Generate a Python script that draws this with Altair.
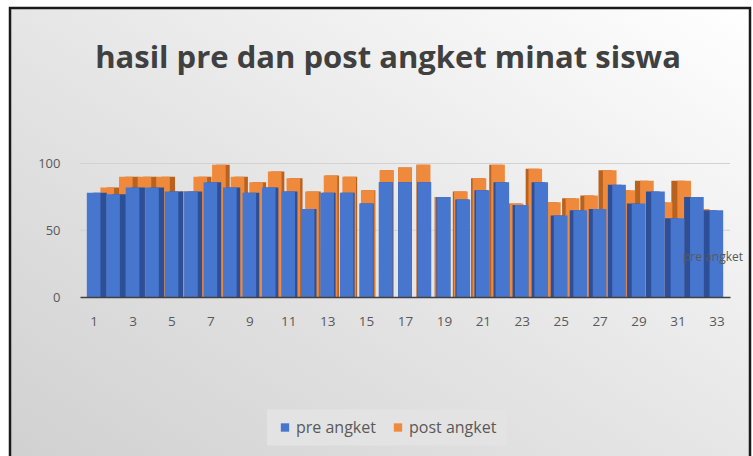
import altair as alt
import pandas as pd

# ---- data ----
categories = list(range(1, 34))
pre_angket = [78, 77, 82, 82, 79, 79, 86, 82, 78, 82, 79, 66, 78, 78, 70, 86, 86,
              86, 75, 73, 80, 86, 69, 86, 61, 65, 66, 84, 70, 79, 59, 75, 65]
post_angket = [82, 90, 90, 90, 79, 90, 99, 90, 86, 94, 89, 79, 91, 90, 80, 95, 97,
               99, 75, 79, 89, 99, 70, 96, 71, 74, 76, 95, 80, 87, 71, 87, 66]
y_ticks = [0, 50, 100]
x_tick_labels = list(range(1, 34, 2))
series_names = ["pre angket", "post angket"]
title_text = "hasil pre dan post angket minat siswa"
depth_label = "pre angket"

# ---- layout / style ----
LEFT, TOP = 80, 163.5
W, H = 650, 133.5
PAD = {"left": LEFT, "top": TOP, "right": 753 - LEFT - W, "bottom": 456 - TOP - H}
X_DOMAIN = [0.3, 33.7]
STEP = W / (X_DOMAIN[1] - X_DOMAIN[0])
HALF = 0.35
BLUE, BLUE_SIDE = "#4776cf", "#2d4f98"
ORANGE, ORANGE_SIDE = "#ef8a3c", "#b9621f"
GRAY = "#595959"
FONT = "Open Sans"

df = pd.DataFrame({"item": categories, "pre": pre_angket, "post": post_angket})

xs = alt.Scale(domain=X_DOMAIN, nice=False, zero=False)
ys = alt.Scale(domain=[0, 100], nice=False)
cs = alt.Scale(domain=series_names, range=[BLUE, ORANGE])
x_axis = alt.Axis(values=x_tick_labels, format="d", title=None, ticks=False,
                  grid=False, domainColor="#404040", domainWidth=1.5,
                  labelColor=GRAY, labelFont=FONT, labelFontSize=13.5,
                  labelPadding=17, zindex=1)
y_axis = alt.Axis(values=y_ticks, title=None, ticks=False, grid=False,
                  domain=False, labelColor=GRAY, labelFont=FONT,
                  labelFontSize=13, labelPadding=20, zindex=1)
legend = alt.Legend(title=None, orient="none", direction="horizontal",
                    legendX=277 - LEFT - 10, legendY=256 - 10, symbolType="square",
                    symbolSize=70, symbolStrokeWidth=0,
                    labelFont=FONT, labelFontSize=16,
                    labelColor=GRAY, columnPadding=14, labelOffset=3,
                    padding=10, fillColor="#e3e3e3")

base = alt.Chart(df).transform_calculate(
    shift=f"(17 - datum.item) * 0.85 / {STEP}",
    side=f"(17 - datum.item) * 0.4 / {STEP}",
)


def rect_layer(value_field, extra, color, series=None):
    enc = dict(
        x=alt.X("xl:Q", scale=xs, axis=x_axis),
        x2="xr:Q",
        y=alt.Y(f"{value_field}:Q", scale=ys, axis=y_axis),
        y2=alt.datum(0),
    )
    chart = base.transform_calculate(
        xl=f"datum.item - {HALF} + {extra}",
        xr=f"datum.item + {HALF} + {extra}",
    )
    if series is not None:
        chart = chart.transform_calculate(series=f"'{series}'")
        enc["color"] = alt.Color("series:N", scale=cs, legend=legend)
    else:
        enc["color"] = alt.value(color)
    return chart.mark_rect().encode(**enc)


orange_side = rect_layer("post", "datum.shift + datum.side", ORANGE_SIDE)
orange_front = rect_layer("post", "datum.shift", None, series="post angket")
blue_side = rect_layer("pre", "datum.side", BLUE_SIDE)
blue_front = rect_layer("pre", "0", None, series="pre angket")

# background panel with gradient and frame
bg = alt.Chart(pd.DataFrame({"k": [0]})).mark_rect(
    fill=alt.LinearGradient(
        gradient="linear",
        stops=[alt.GradientStop(color="#ffffff", offset=0),
               alt.GradientStop(color="#e6e6e6", offset=0.5),
               alt.GradientStop(color="#d0d0d0", offset=1)],
        x1=1, y1=0, x2=0, y2=1),
    stroke="#1a1a1a", strokeWidth=2.5,
).encode(x=alt.value(10 - LEFT), x2=alt.value(750 - LEFT),
         y=alt.value(8 - TOP), y2=alt.value(470 - TOP))

grid = alt.Chart(pd.DataFrame({"v": y_ticks[1:]})).mark_rule(
    color="#d2d2d2", strokeWidth=1
).encode(y=alt.Y("v:Q", scale=ys, axis=y_axis), x=alt.value(0), x2=alt.value(W))

title = alt.Chart(pd.DataFrame({"t": [title_text]})).mark_text(
    font=FONT, fontSize=31, fontWeight="bold", color="#404040",
    align="center", baseline="middle"
).encode(text="t:N", x=alt.value(388 - LEFT), y=alt.value(59 - TOP))

depth = alt.Chart(pd.DataFrame({"t": [depth_label]})).mark_text(
    font=FONT, fontSize=12, color=GRAY, align="left", baseline="middle"
).encode(text="t:N", x=alt.value(683 - LEFT), y=alt.value(257 - TOP))

chart = alt.layer(
    bg, grid, orange_side, orange_front, blue_side, blue_front, title, depth
).properties(
    width=W, height=H,
    autosize=alt.AutoSizeParams(type="none"),
    padding=PAD,
    background="#ffffff",
).configure_view(stroke=None)

chart.save("out.html", embed_options={"renderer": "svg", "actions": False})
